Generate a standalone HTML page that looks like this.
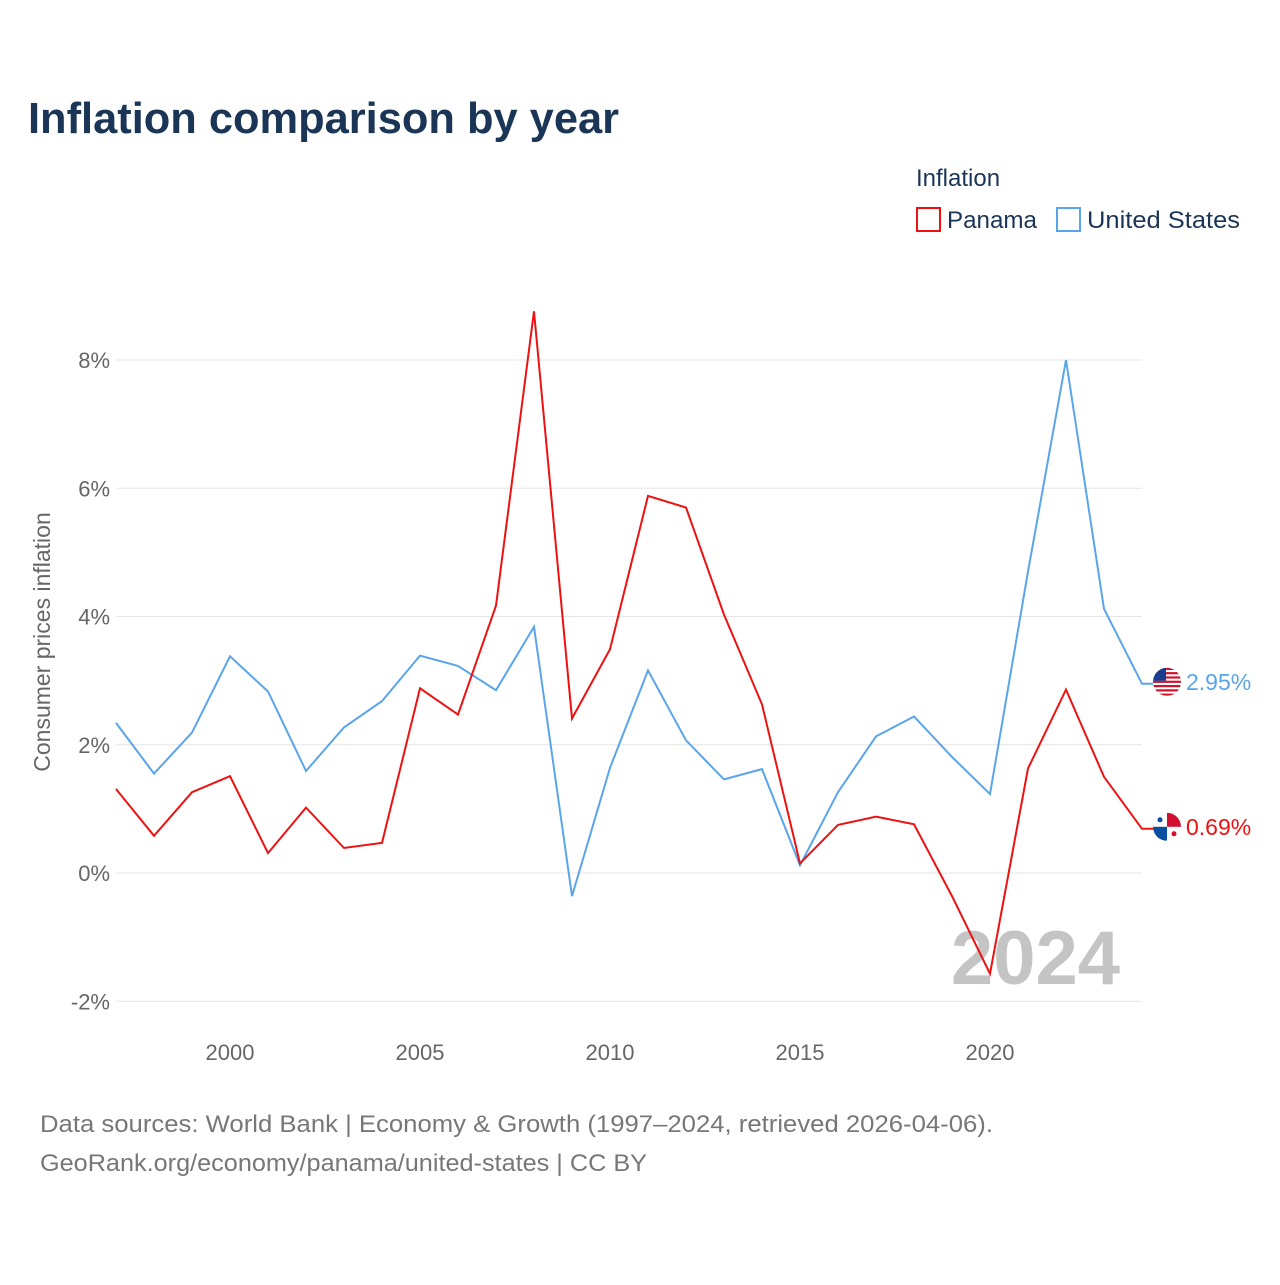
<!DOCTYPE html>
<html><head><meta charset="utf-8"><style>
body{margin:0;background:#fff;font-family:"Liberation Sans",sans-serif;}
</style></head><body>
<svg id="chart" width="1280" height="1280" viewBox="0 0 1280 1280" xmlns="http://www.w3.org/2000/svg">
<text x="28" y="133" font-size="44" font-weight="bold" fill="#1b3556" textLength="591" lengthAdjust="spacingAndGlyphs">Inflation comparison by year</text>
<text x="916" y="186" font-size="24" fill="#1b3556">Inflation</text>
<g><rect x="917" y="208" width="23" height="23" fill="none" stroke="#ee1111" stroke-width="2"/><text x="947" y="228" font-size="24" fill="#1b3556" textLength="90" lengthAdjust="spacingAndGlyphs">Panama</text></g>
<g><rect x="1057" y="208" width="23" height="23" fill="none" stroke="#5aa5ea" stroke-width="2"/><text x="1087" y="228" font-size="24" fill="#1b3556" textLength="153" lengthAdjust="spacingAndGlyphs">United States</text></g>
<text transform="translate(50,642) rotate(-90)" text-anchor="middle" font-size="23" fill="#666">Consumer prices inflation</text>
<defs>
<clipPath id="c1"><circle cx="1167" cy="0" r="14"/></clipPath>
</defs>
<g id="grid"></g><g id="yt"></g><g id="xt"></g>
<text x="1120" y="984" text-anchor="end" font-size="76" font-weight="bold" fill="#c4c4c4">2024</text>
<g id="lines"></g>
<text x="40" y="1132" font-size="24" fill="#777" textLength="953" lengthAdjust="spacingAndGlyphs">Data sources: World Bank | Economy &amp; Growth (1997–2024, retrieved 2026-04-06).</text>
<text x="40" y="1171" font-size="24" fill="#777" textLength="607" lengthAdjust="spacingAndGlyphs">GeoRank.org/economy/panama/united-states | CC BY</text>
</svg>
<script>
const years=[1997,1998,1999,2000,2001,2002,2003,2004,2005,2006,2007,2008,2009,2010,2011,2012,2013,2014,2015,2016,2017,2018,2019,2020,2021,2022,2023,2024];
const panama=[1.31,0.58,1.26,1.51,0.31,1.02,0.39,0.47,2.88,2.47,4.17,8.76,2.41,3.49,5.88,5.70,4.03,2.63,0.15,0.75,0.88,0.76,-0.36,-1.57,1.63,2.86,1.50,0.69];
const us=[2.34,1.55,2.19,3.38,2.83,1.59,2.27,2.68,3.39,3.23,2.85,3.84,-0.36,1.64,3.16,2.07,1.46,1.62,0.12,1.26,2.13,2.44,1.81,1.23,4.70,8.00,4.12,2.95];
const yTicks=[-2,0,2,4,6,8];
const xTicks=[2000,2005,2010,2015,2020];
const NS="http://www.w3.org/2000/svg";
const X=v=>116+(v-1997)*(1142-116)/27;
const Y=v=>873-v*(873-360)/8;
function mk(t,a,p){const e=document.createElementNS(NS,t);for(const k in a)e.setAttribute(k,a[k]);p.appendChild(e);return e;}
const grid=document.getElementById('grid'),yt=document.getElementById('yt'),xt=document.getElementById('xt'),lines=document.getElementById('lines');
yTicks.forEach(v=>{
 const l=mk('line',{x1:116,x2:1142,y1:Y(v),y2:Y(v),stroke:'#e6e6e6','stroke-width':1},grid);
 
 
 const t=mk('text',{x:110,y:Y(v)+8,'text-anchor':'end','font-size':22,fill:'#666'},yt);
 t.textContent=v+'%';
 
 
});
xTicks.forEach(v=>{
 const t=mk('text',{x:X(v),y:1060,'text-anchor':'middle','font-size':22,fill:'#666'},xt);
 t.textContent=v;
 
 
});
function flag(name,ly){
 const g=mk('g',{transform:'translate(0,'+ly.toFixed(1)+')','clip-path':'url(#c1)'},lines);
 
 
 if(name==='united-states'){
  mk('rect',{x:1153,y:-14,width:28,height:28,fill:'#fff'},g);
  for(let i=0;i<7;i++) mk('rect',{x:1153,y:-14+i*4.3,width:28,height:2.2,fill:'#d0112b'},g);
  mk('rect',{x:1153,y:-14,width:13,height:13,fill:'#1a3d8f'},g);
 } else {
  mk('rect',{x:1153,y:-14,width:28,height:28,fill:'#fff'},g);
  mk('rect',{x:1167,y:-14,width:14,height:14,fill:'#d21034'},g);
  mk('rect',{x:1153,y:0,width:14,height:14,fill:'#0a4ea2'},g);
  mk('circle',{cx:1160,cy:-7,r:2.5,fill:'#0a4ea2'},g);
  mk('circle',{cx:1174,cy:7,r:2.5,fill:'#d21034'},g);
 }
}
function series(vals,color,name,label){
 const d=vals.map((v,i)=>(i?'L':'M')+X(years[i]).toFixed(1)+','+Y(v).toFixed(1)).join(' ');
 const last=vals[vals.length-1], ly=Y(last)-2;
 const p=mk('path',{d:d+' L1158,'+Y(last).toFixed(1),fill:'none',stroke:color,'stroke-width':2},lines);
 
 
 flag(name,ly);
 const t=mk('text',{x:1186,y:ly+8,'font-size':23,fill:color},lines);
 t.textContent=label;
 
 
}
series(us,'#5aa5ea','united-states',us[us.length-1].toFixed(2)+'%');
series(panama,'#ee1111','panama',panama[panama.length-1].toFixed(2)+'%');
</script>
</body></html>
